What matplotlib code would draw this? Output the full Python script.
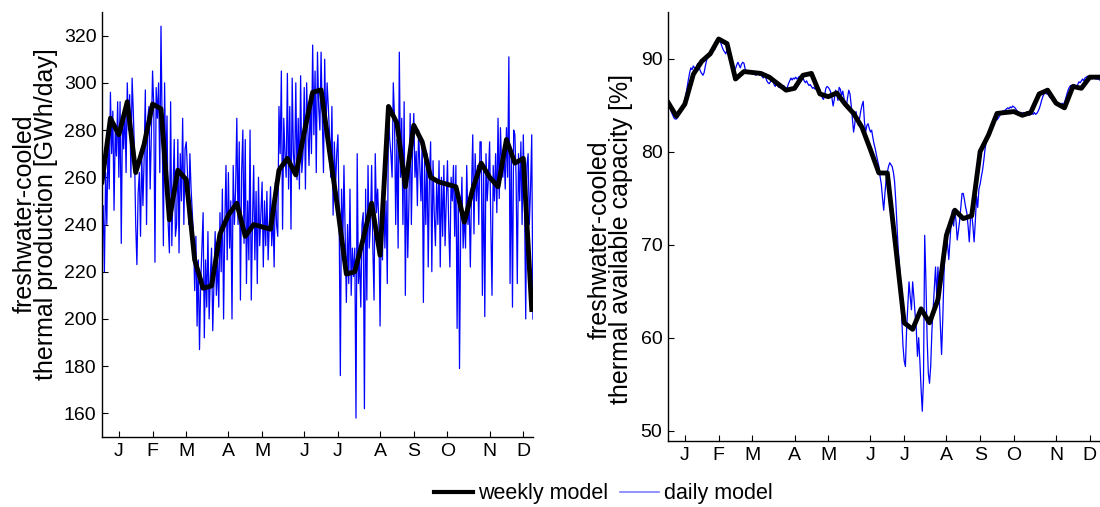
import numpy as np
import matplotlib
matplotlib.use("Agg")
import matplotlib.pyplot as plt
from matplotlib.lines import Line2D

plt.rcParams['font.family'] = ['Liberation Sans', 'DejaVu Sans']

month_labels = ['J', 'F', 'M', 'A', 'M', 'J', 'J', 'A', 'S', 'O', 'N', 'D']
month_weeks = [2, 6, 10, 15, 19, 24, 28, 33, 37, 41, 46, 50]

# weekly model, left panel: thermal production [GWh/day], weeks 0..51
prod_weekly = [258, 285, 278, 292, 262, 274, 291, 289, 242, 263,
               259, 225, 213, 214, 236, 244, 249, 235, 240, 239,
               238, 263, 268, 261, 279, 296, 297, 271, 246, 219,
               220, 234, 249, 227, 290, 283, 256, 282, 275, 260,
               258, 257, 256, 241, 255, 266, 260, 256, 276, 266,
               268, 204]

# daily model, left panel (7 values per week)
prod_daily = [
    230, 248, 220, 262, 240, 275, 255,
    296, 270, 288, 246, 280, 269, 292,
    260, 292, 232, 285, 272, 290, 262,
    300, 280, 295, 260, 302, 288, 270,
    240, 223, 253, 262, 235, 270, 248,
    268, 297, 240, 285, 290, 255, 278,
    305, 290, 224, 298, 285, 300, 262,
    324, 280, 231, 300, 260, 286, 240,
    228, 292, 231, 255, 276, 235, 240,
    276, 228, 270, 250, 285, 240, 272,
    275, 262, 240, 270, 255, 245, 235,
    212, 235, 197, 225, 187, 215, 230,
    245, 192, 225, 205, 237, 200, 218,
    230, 195, 215, 237, 210, 225, 205,
    245, 220, 255, 200, 240, 265, 225,
    262, 230, 250, 200, 265, 240, 255,
    285, 240, 275, 208, 262, 280, 232,
    276, 215, 250, 225, 280, 208, 240,
    265, 225, 254, 215, 260, 231, 245,
    258, 222, 250, 231, 254, 225, 240,
    256, 231, 245, 222, 258, 240, 235,
    290, 270, 305, 238, 285, 270, 260,
    304, 255, 290, 238, 302, 270, 262,
    300, 259, 285, 255, 303, 262, 270,
    298, 255, 300, 280, 265, 295, 270,
    316, 278, 305, 262, 313, 290, 280,
    313, 285, 262, 310, 278, 300, 290,
    278, 260, 290, 244, 275, 255, 270,
    278, 244, 176, 255, 230, 265, 235,
    207, 240, 215, 255, 210, 230, 218,
    230, 158, 270, 215, 225, 205, 240,
    245, 162, 255, 208, 265, 230, 240,
    265, 230, 208, 270, 245, 255, 240,
    197, 245, 225, 260, 230, 250, 215,
    288, 276, 270, 260, 300, 285, 240,
    276, 230, 313, 260, 285, 240, 292,
    210, 265, 226, 250, 287, 240, 271,
    287, 260, 271, 248, 280, 265, 250,
    276, 207, 267, 240, 270, 222, 260,
    275, 220, 267, 245, 231, 258, 240,
    267, 222, 260, 235, 265, 231, 250,
    267, 240, 222, 260, 250, 265, 235,
    265, 196, 255, 179, 240, 260, 230,
    245, 230, 265, 240, 250, 222, 255,
    278, 236, 270, 250, 265, 240, 275,
    275, 210, 265, 201, 270, 250, 260,
    275, 240, 210, 265, 250, 270, 245,
    285, 251, 281, 265, 260, 270, 255,
    281, 260, 311, 215, 270, 205, 280,
    278, 260, 215, 270, 250, 275, 240,
    278, 250, 200, 265, 270, 240, 255,
    278, 200,
]

# weekly model, right panel: available capacity [%]
cap_weekly = [85.3, 83.8, 85.1, 88.3, 89.7, 90.5, 92.1, 91.6, 87.8, 88.6,
              88.5, 88.4, 88.0, 87.3, 86.6, 86.8, 88.2, 88.4, 86.2, 85.9,
              86.3, 85.1, 84.1, 82.6, 80.2, 77.7, 77.7, 69.7, 61.6, 60.9,
              63.1, 61.6, 64.1, 71.0, 73.7, 72.8, 73.1, 80.0, 81.8, 84.1,
              84.2, 84.3, 83.9, 84.2, 86.2, 86.6, 85.2, 84.7, 87.0, 86.8,
              88.0, 88.0]

# daily model, right panel
cap_daily = [
    85.3, 85.0, 84.6, 84.2, 83.9, 83.6, 83.5,
    83.5, 83.7, 84.0, 84.3, 84.6, 84.9, 85.2,
    85.5, 86.2, 87.0, 87.8, 88.5, 89.0, 88.8,
    89.2, 89.0, 88.7, 89.3, 89.5, 89.0, 88.6,
    88.4, 88.2, 88.5, 89.2, 89.8, 90.3, 90.5,
    90.6, 90.4, 90.8, 91.2, 91.0, 91.5, 91.8,
    92.1, 92.0, 91.6, 91.2, 90.9, 90.7, 90.5,
    91.0, 90.5, 90.0, 89.5, 89.2, 89.0, 88.8,
    88.9, 89.3, 89.6, 89.3, 89.0, 89.4, 89.6,
    89.5, 88.9, 88.6, 88.5, 88.6, 88.4, 88.5,
    88.4, 88.6, 88.3, 88.2, 88.4, 88.5, 88.2,
    88.3, 88.1, 87.9, 88.2, 88.0, 87.6, 87.4,
    87.3, 87.5, 87.8, 87.6, 87.2, 87.0, 87.3,
    87.1, 86.9, 87.0, 86.8, 86.9, 87.1, 86.9,
    86.8, 86.9, 87.3, 87.6, 87.9, 87.7, 87.9,
    87.8, 88.0, 87.8, 87.9, 88.1, 87.7, 87.8,
    87.9, 87.6, 87.4, 87.6, 87.3, 87.1, 87.2,
    87.0, 86.8, 86.9, 86.7, 86.9, 86.6, 86.9,
    86.6, 86.2, 85.8, 85.6, 86.1, 86.8, 87.0,
    86.9, 86.7, 86.4, 85.8, 84.9, 85.6, 86.6,
    86.2, 85.5, 86.9, 86.7, 86.0, 86.5, 85.8,
    85.0, 84.9, 85.8, 86.6, 86.2, 85.0, 83.5,
    82.1, 83.0, 84.3, 83.5, 82.8, 83.6, 84.4,
    85.0, 85.4, 83.2, 82.1, 82.8, 83.0, 82.5,
    82.1, 82.3, 81.5, 80.8, 80.3, 79.6, 79.0,
    78.4, 77.3, 76.5, 75.0, 73.7, 75.5, 77.0,
    77.8, 78.4, 78.8, 78.6, 78.4, 77.8, 76.8,
    74.7, 72.0, 69.5, 68.0, 65.5, 62.0, 59.1,
    57.5, 56.9, 60.9, 63.5, 66.0, 64.4, 63.0,
    66.0, 64.4, 62.6, 61.0, 58.0, 60.0, 57.5,
    54.5, 52.1, 55.5, 71.0, 66.2, 60.0, 56.2,
    55.1, 57.0, 60.8, 63.0, 65.0, 67.6, 64.4,
    67.6, 64.4, 61.0, 58.2, 62.0, 66.9, 69.5,
    71.6, 70.0, 68.4, 70.5, 72.5, 73.7, 72.0,
    73.7, 72.5, 70.5, 71.5, 72.6, 74.0, 75.5,
    75.5, 74.8, 74.0, 73.4, 72.0, 70.3, 72.8,
    73.4, 72.0, 70.3, 72.5, 75.2, 74.0, 76.0,
    76.5, 77.3, 78.0, 79.0, 80.2, 81.0, 81.6,
    82.0, 82.3, 82.6, 82.9, 83.2, 83.4, 83.6,
    83.4, 83.6, 83.8, 84.0, 84.2, 84.4, 84.3,
    84.5, 84.6, 84.7, 84.6, 84.8, 84.7, 84.9,
    84.8, 84.7, 84.5, 84.3, 84.1, 84.0, 84.2,
    84.1, 84.2, 84.0, 84.1, 84.3, 84.0, 83.9,
    84.0, 84.1, 84.0, 84.2, 84.0, 84.1, 84.3,
    84.6, 85.0, 85.5, 85.9, 86.2, 86.3, 86.2,
    86.2, 86.0, 85.8, 85.7, 85.5, 85.4, 85.3,
    85.2, 85.1, 85.0, 84.9, 85.0, 85.2, 85.0,
    85.3, 85.7, 86.2, 86.6, 86.9, 87.1, 86.9,
    87.1, 87.2, 87.0, 86.9, 87.2, 87.5, 87.4,
    87.6, 87.8, 87.6, 87.9, 88.0, 88.1, 87.9,
    88.0, 87.9, 87.8, 88.0, 87.9, 87.8, 87.8,
    87.8, 87.7,
]

W = 1100
H = 507
fig = plt.figure(figsize=(W / 100, H / 100), dpi=100)

def px_axes(x0, y0, x1, y1):
    return fig.add_axes([x0 / W, 1 - y1 / H, (x1 - x0) / W, (y1 - y0) / H])

ax1 = px_axes(102, 12, 533, 437)
ax2 = px_axes(668, 12, 1099.5, 441)

FS = 14
LFS = 18

def style(ax):
    ax.spines['top'].set_visible(False)
    ax.spines['right'].set_visible(False)
    ax.spines['left'].set_linewidth(1.0)
    ax.spines['bottom'].set_linewidth(1.0)
    ax.tick_params(direction='in', length=4, width=0.8, labelsize=FS, pad=4)
    ax.set_xticks(month_weeks)
    ax.set_xticklabels(month_labels)
    ax.set_xlim(0, 51.15)

wk_x = np.arange(len(prod_weekly))
pd_x = np.arange(len(prod_daily)) / 7.0
cw_x = np.arange(len(cap_weekly))
cd_x = np.arange(len(cap_daily)) / 7.0

ax1.plot(pd_x, prod_daily, color='#0000ff', lw=0.9, zorder=2)
ax1.plot(wk_x, prod_weekly, color='black', lw=3.5, zorder=3, solid_joinstyle='round')
ax1.set_ylim(150, 330)
ax1.set_yticks(np.arange(160, 321, 20))
style(ax1)
ax1.set_ylabel('freshwater-cooled\nthermal production [GWh/day]', fontsize=LFS,
               linespacing=0.85)
ax1.yaxis.set_label_coords((58 - 102) / 431, 0.525)

ax2.plot(cd_x, cap_daily, color='#0000ff', lw=0.9, zorder=2)
ax2.plot(cw_x, cap_weekly, color='black', lw=3.5, zorder=3, solid_joinstyle='round')
ax2.set_ylim(48.9, 95)
ax2.set_yticks([50, 60, 70, 80, 90])
style(ax2)
ax2.set_ylabel('freshwater-cooled\nthermal available capacity [%]', fontsize=LFS,
               linespacing=0.85)
ax2.yaxis.set_label_coords((633 - 668) / 431.5, 0.47)

h1 = Line2D([], [], color='black', lw=3)
h2 = Line2D([], [], color='#7f7fff', lw=1.2)
fig.legend([h1, h2], ['weekly model', 'daily model'], loc='center',
           bbox_to_anchor=(603 / W, 1 - 494 / H), ncol=2, frameon=False,
           fontsize=15.5, handlelength=1.85, handletextpad=0.2, columnspacing=0.55,
           borderpad=0.2)

fig.savefig('out.png', dpi=100)
